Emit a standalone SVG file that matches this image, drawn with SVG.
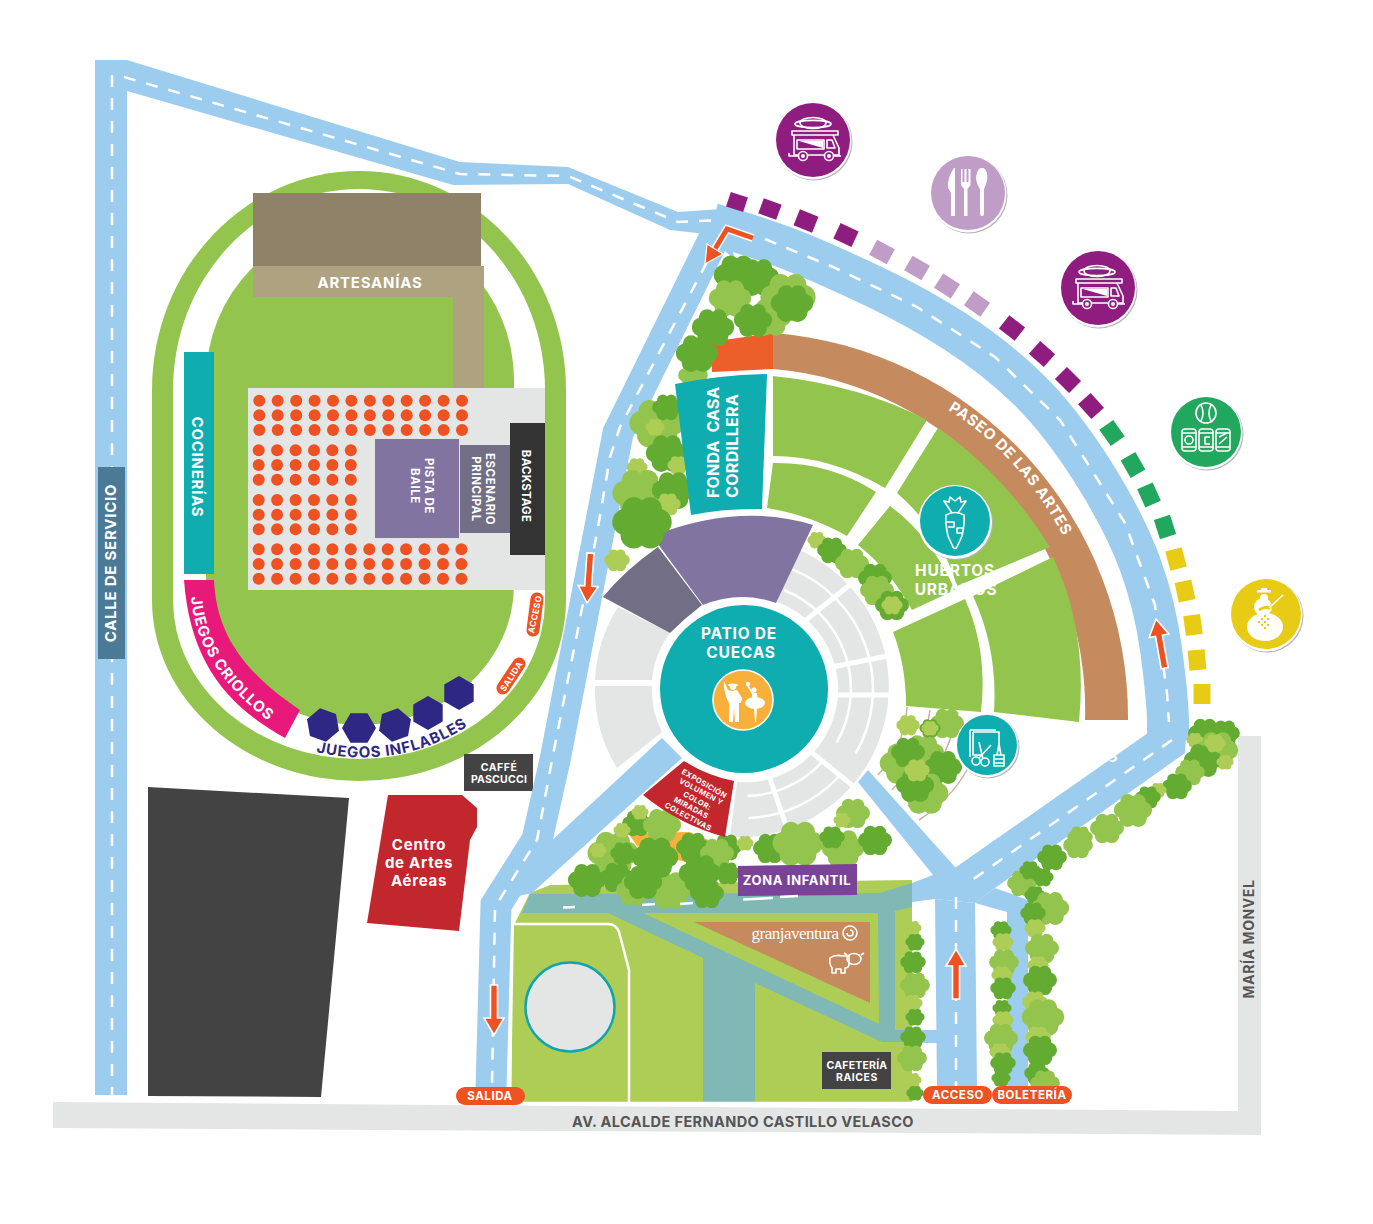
<svg xmlns="http://www.w3.org/2000/svg" xmlns:xlink="http://www.w3.org/1999/xlink" width="1373" height="1224" viewBox="0 0 1373 1224">
<style>
text{font-family:Inter,"Liberation Sans",sans-serif;font-weight:700;fill:#fff;text-anchor:middle;letter-spacing:.05em}
.road{fill:#9dcdee}.rl{fill:none;stroke:#9dcdee}
.dash{fill:none;stroke:#fff;stroke-width:2.5;stroke-dasharray:12 11}
.gr{fill:#e4e6e5}.g{fill:#93c44d}.teal{fill:#10adb0}.band{fill:#7fb8b5}
.d{fill:#64ab32}.m{fill:#93c44d}.l{fill:#adcd56}
.o{fill:#ee5122}.ln{fill:none;stroke:#fff;stroke-width:1.6;stroke-linejoin:round}
.w{fill:#fff}.wl{fill:none;stroke:#fff;stroke-width:2.5}
.p1{fill:#8f1d80}.p2{fill:#bf9dc7}.p3{fill:#22a75f}.p4{fill:#e8cb14}
.pill{font-size:11.5px}
</style>
<defs>
<g id="c" transform="scale(1.18)"><circle cx="-10" cy="0" r="8"/><circle cx="-5" cy="-8" r="7"/><circle cx="5" cy="-8" r="7"/><circle cx="10" cy="0" r="8"/><circle cx="5" cy="8" r="8"/><circle cx="-5" cy="8" r="8"/><circle r="10"/></g>
<g id="arrow"><polygon points="-3.5,50 -3.5,17 -10,17 0,0 10,17 3.5,17 3.5,50" fill="#ee5122" stroke="#fff" stroke-width="1.6"/></g>
<rect id="st" x="-10" y="-8.5" width="20" height="17"/>
<polygon id="hex" points="17,0 8.5,14.7 -8.5,14.7 -17,0 -8.5,-14.7 8.5,-14.7"/>
<g id="r12"><circle cx="0" r="6"/><circle cx="18.4" r="6"/><circle cx="36.9" r="6"/><circle cx="55.3" r="6"/><circle cx="73.7" r="6"/><circle cx="92.1" r="6"/><circle cx="110.6" r="6"/><circle cx="129" r="6"/><circle cx="147.4" r="6"/><circle cx="165.8" r="6"/><circle cx="184.3" r="6"/><circle cx="202.7" r="6"/></g>
<g id="r6"><circle cx="0" r="6"/><circle cx="18.4" r="6"/><circle cx="36.9" r="6"/><circle cx="55.3" r="6"/><circle cx="73.7" r="6"/><circle cx="92.1" r="6"/></g>
<g id="truck" class="ln"><ellipse cx="0" cy="-17" rx="13" ry="5.5"/><ellipse cx="0" cy="-16" rx="18" ry="3.6"/><rect x="-21" y="-9" width="46" height="4"/><path d="M-19,-5V15H-14M-5,15H11M21,15H26V8L20,-5"/><rect x="-16" y="0" width="27" height="9"/><path d="M-14,1H10V8Z" fill="#fff" stroke="none"/><path d="M14,0H19L22,8H14Z"/><circle cx="-10" cy="16" r="4.5"/><circle cx="16" cy="16" r="4.5"/><circle cx="-10" cy="16" r="1.2"/><circle cx="16" cy="16" r="1.2"/><path d="M-24,13V16H-15M21,16H28"/></g>
</defs>
<rect width="1373" height="1224" fill="#fff"/>

<g id="calles">
<polygon class="gr" points="53,1102 1238,1111 1238,736 1261,736 1261,1135 53,1128"/>
<text x="743" y="1127" font-size="14.5" style="fill:#555;letter-spacing:.4px">AV. ALCALDE FERNANDO CASTILLO VELASCO</text>
<text transform="translate(1254,939) rotate(-90)" font-size="14" style="fill:#555;letter-spacing:.6px">MARÍA MONVEL</text>
</g>

<g id="estadio">
<path class="g" d="M152,390A207,219 0 0 1 566,390V600A207,181 0 0 1 152,600Z"/>
<path class="w" d="M173,390A186,201 0 0 1 545,390V600A186,159 0 0 1 173,600Z"/>
<path class="g" d="M206,380A154,157 0 0 1 514,380V585A154,140 0 0 1 206,585Z"/>
<rect x="253" y="193" width="228" height="74" fill="#8f8269"/>
<polygon points="253,266 484,266 484,388 453,388 453,297 253,297" fill="#aea280"/>
<text x="370" y="288" font-size="15">ARTESANÍAS</text>
<rect x="248" y="388" width="297" height="202" class="gr"/>
<g class="o">
<use href="#r12" x="259.3" y="400.7"/><use href="#r12" x="259.3" y="415.3"/><use href="#r12" x="259.3" y="430"/>
<use href="#r6" x="258.7" y="450.3"/><use href="#r6" x="258.7" y="465"/><use href="#r6" x="258.7" y="479.7"/>
<use href="#r6" x="258.7" y="500"/><use href="#r6" x="258.7" y="514.7"/><use href="#r6" x="258.7" y="529.3"/>
<use href="#r12" x="258.7" y="549.3"/><use href="#r12" x="258.7" y="564"/><use href="#r12" x="258.7" y="578.7"/>
</g>
<rect x="375" y="439" width="84" height="99" fill="#8274a1"/>
<rect x="460" y="445" width="50" height="88" fill="#726e85"/>
<rect x="510" y="423" width="35" height="132" fill="#333"/>
<text transform="translate(425,486) rotate(90)" font-size="11.5">PISTA DE</text>
<text transform="translate(411,486) rotate(90)" font-size="11.5">BAILE</text>
<text transform="translate(486,489) rotate(90)" font-size="11.5">ESCENARIO</text>
<text transform="translate(472,489) rotate(90)" font-size="11.5">PRINCIPAL</text>
<text transform="translate(522,486) rotate(90)" font-size="11.5" style="letter-spacing:.02em">BACKSTAGE</text>
<rect x="184" y="352" width="30" height="222" class="teal"/>
<text transform="translate(192,467) rotate(90)" font-size="15">COCINERÍAS</text>
<path d="M184,580H214C216,630 240,670 300,710L285,738C225,705 190,660 184,580Z" fill="#e8197a"/>
<path id="pc" d="M191,597C196,650 225,690 281,730" fill="none"/>
<text font-size="15" style="text-anchor:start"><textPath href="#pc" xlink:href="#pc">JUEGOS CRIOLLOS</textPath></text>
<g fill="#2e2783">
<use href="#hex" transform="translate(323,725) rotate(20)"/><use href="#hex" transform="translate(359,728)"/><use href="#hex" transform="translate(395,725) rotate(-20)"/><use href="#hex" transform="translate(428,713) rotate(-30)"/><use href="#hex" transform="translate(459,693) rotate(30)"/>
</g>
<path id="pi" d="M316,752C370,765 430,755 476,720" fill="none"/>
<text font-size="15" style="text-anchor:start;fill:#2e2783"><textPath href="#pi" xlink:href="#pi">JUEGOS INFLABLES</textPath></text>
<path d="M537,599L533,630" stroke="#ee5122" stroke-width="13" stroke-linecap="round" fill="none"/>
<text transform="translate(538,615) rotate(-78)" font-size="8.5">ACCESO</text>
<path d="M519,664L503,688" stroke="#ee5122" stroke-width="13" stroke-linecap="round" fill="none"/>
<text transform="translate(514,678) rotate(-57)" font-size="8.5">SALIDA</text>
</g>

<g id="edificios">
<polygon points="148,787 349,798 321,1097 148,1096" fill="#434343"/>
<polygon points="388,795 462,795 477,808 477,827 470,840 459,931 367,923" fill="#c1272d"/>
<text x="419" y="850" font-size="15">Centro</text><text x="419" y="868" font-size="15">de Artes</text><text x="419" y="886" font-size="15">Aéreas</text>
<rect x="464" y="754" width="69" height="37" fill="#434343"/>
<text x="499" y="771" font-size="10.5">CAFFÉ</text><text x="499" y="783" font-size="10.5" style="letter-spacing:.02em">PASCUCCI</text>
</g>

<g id="granja">
<polygon points="550,885 912,880 912,1103 511,1103 514,925 530,893" fill="#adcd56"/>
<polygon class="band" points="530,894 880,893 912,883 912,1042 882,1042 755,983 755,1102 703,1102 703,958 608,913 522,913"/>
<polygon points="643,913 878,913 879,1024" fill="#adcd56"/>
<polygon points="895,911 912,907 912,1030 895,1030" fill="#adcd56"/>
<polygon points="694,922 870,922 870,1003" fill="#c58a5e"/>
<text x="795" y="939" font-size="17" style="font-family:'Liberation Serif',serif;font-weight:400;letter-spacing:-.5px">granjaventura</text>
<g class="ln"><circle cx="850" cy="933" r="7"/><path d="M850,930a3,3 0 1 1 -3,3"/></g>
<g class="ln" transform="translate(845,962)" stroke-width="1.2"><path d="M-15,-4Q-10,-8 -2,-6H4V2Q4,6 0,6V11H-4V7H-9V11H-13V6Q-16,2 -15,-4Z"/><ellipse cx="9" cy="-3" rx="7" ry="5.5"/><path d="M2,-7L-1,-9M16,-7L19,-9"/></g>
<path d="M513,924H608Q616,924 619,932L629,970V1102M511,923L510,1103H912" class="wl" stroke-width="3"/>
<circle cx="570" cy="1007" r="44.5" class="gr" stroke="#10a4ad" stroke-width="2.5"/>
<rect x="822" y="1052" width="69" height="37" fill="#434343"/>
<text x="857" y="1069" font-size="10.5" style="letter-spacing:.02em">CAFETERÍA</text><text x="857" y="1081" font-size="10.5">RAICES</text>
</g>

<g id="caminos">
<polygon class="road" points="95,60 127,60 460,162 568,167 678,212 722,209 735,260 706,234 670,230 568,184 453,185 127,91 127,1095 95,1095"/>
<path class="rl" stroke-width="31" d="M720,226L618,433L555,760L537,840L496,905L491,1090"/>
<polygon class="road" points="662,738 682,758 532,893 500,900 548,844"/>
<path class="rl" stroke-width="42" d="M712,224Q765,239 799,253Q833,267 875,287Q917,307 956,332Q995,357 1028,389Q1060,420 1093,472Q1125,523 1140,564Q1155,605 1161,649Q1167,693 1168,720V740"/>
<polygon class="road" points="1148,733 1187,720 1185,753 995,888 975,903 935,899 949,872"/>
<polygon class="road" points="868,770 955,867 975,880 935,899 912,902 912,883 933,875 858,782"/>
<polygon class="road" points="935,899 975,903 977,1087 937,1087"/>
<polygon class="road" points="975,903 995,888 1028,900 1028,1087 1007,1087 1007,912"/>
<rect class="road" x="912" y="1030" width="25" height="13"/>
<path class="dash" d="M124,77L460,174L568,176L678,222L722,220"/>
<path class="dash" d="M112,75V1095"/>
<path class="dash" d="M707,262L620,427L610,457L597,533L553,755L537,840L495,907L492,1085"/>
<path class="dash" d="M765,239Q799,253 833,267Q875,287 917,307Q956,332 995,357Q1028,389 1060,420Q1093,472 1125,523Q1140,564 1155,605Q1161,649 1167,693L1169,722"/>
<path class="dash" d="M1172,740L965,885"/>
<path class="dash" d="M956,897V1087"/>
<text transform="translate(1115,761) rotate(-33)" font-size="14">S</text>
<g fill="none" stroke="#fff" stroke-width="8"><path d="M753,238L727,229L715,249"/></g>
<path d="M753,238L727,229L715,249" fill="none" stroke="#ee5122" stroke-width="5"/>
<polygon points="705,264 707,244 723,254" fill="#ee5122" stroke="#fff" stroke-width="1.2"/>
<use href="#arrow" transform="translate(587,603) rotate(184)"/>
<use href="#arrow" transform="translate(1156,619) rotate(-10)"/>
<use href="#arrow" transform="translate(494,1035) rotate(180)"/>
<use href="#arrow" transform="translate(956,949)"/>
</g>

<g id="puestos">
<g class="p1"><use href="#st" transform="translate(737,202) rotate(18) scale(.9)"/><use href="#st" transform="translate(770,209) rotate(20) scale(.95)"/><use href="#st" transform="translate(806,221) rotate(22)"/><use href="#st" transform="translate(846,235) rotate(25)"/>
<use href="#st" transform="translate(1012,328) rotate(38)"/><use href="#st" transform="translate(1042,354) rotate(42)"/><use href="#st" transform="translate(1068,380) rotate(45)"/><use href="#st" transform="translate(1091,406) rotate(48)"/></g>
<g class="p2"><use href="#st" transform="translate(882,252) rotate(28)"/><use href="#st" transform="translate(917,268) rotate(30)"/><use href="#st" transform="translate(947,286) rotate(33)"/><use href="#st" transform="translate(977,304) rotate(35)"/></g>
<g class="p3"><use href="#st" transform="translate(1112,433) rotate(55)"/><use href="#st" transform="translate(1133,465) rotate(60)"/><use href="#st" transform="translate(1149,495) rotate(66)"/><use href="#st" transform="translate(1165,527) rotate(72)"/></g>
<g class="p4"><use href="#st" transform="translate(1176,559) rotate(75)"/><use href="#st" transform="translate(1185,591) rotate(78)"/><use href="#st" transform="translate(1193,625) rotate(82)"/><use href="#st" transform="translate(1197,660) rotate(85)"/><use href="#st" transform="translate(1202,694) rotate(90)"/></g>
</g>

<g id="paseo">
<path d="M773,333A385,385 0 0 1 1128,720H1085A342,342 0 0 0 773,369Z" fill="#c58a5e"/>
<polygon points="710,342 773,333 773,369 712,372" fill="#ec5f2b"/>
<path id="pa" d="M948,410Q1022,455 1068,545" fill="none"/>
<text font-size="15" style="text-anchor:start"><textPath href="#pa" xlink:href="#pa">PASEO DE LAS ARTES</textPath></text>
</g>

<g id="huertos" class="g">
<path d="M773,376Q860,385 927,420L885,488Q830,456 773,456Z"/>
<path d="M773,463Q830,462 876,492L847,536Q810,515 767,508Z"/>
<path d="M938,428Q1005,475 1050,547L957,586Q940,530 897,493Z"/>
<path d="M890,506Q930,535 955,590L912,610Q890,570 858,545Z"/>
<path d="M893,632L965,599Q988,650 981,712L906,706Q906,665 893,632Z"/>
<path d="M1053,557L973,596Q998,650 994,712L1079,722Q1088,630 1053,557Z"/>
</g>
<text x="955" y="576" font-size="15.5">HUERTOS</text><text x="956" y="595" font-size="15.5">URBANOS</text>
<path d="M907,707Q905,745 878,775M930,710Q925,755 892,790M958,712Q945,770 908,806M967,770Q950,800 919,820" fill="none" stroke="#c9b29c" stroke-width="1.5"/>

<g id="anillo">
<path class="gr" d="M670,633A93,93 0 0 0 652,680L595,680A150,150 0 0 1 618,607Z"/>
<path class="gr" d="M652,686A93,93 0 0 0 662,732L617,768A150,150 0 0 1 595,686Z"/>
<path class="gr" d="M777,602A93,93 0 0 1 737,782L730,837A150,150 0 0 0 792,547Z"/>
<path class="wl" d="M784,590A107,107 0 0 1 836.7,742.5M792.3,569.4A129,129 0 0 1 855.7,753.5M822.3,762A107,107 0 0 1 747.7,796M838.3,777A129,129 0 0 1 748.5,818"/>
<path d="M806,620L852,583M832,667L892,655M835,695H897M810,751L858,790M769,776L789,834" fill="none" stroke="#fff" stroke-width="5"/>
<path d="M652,536Q740,502 813,525L776,603Q740,590 703,605Z" fill="#8274a1"/>
<path d="M658,547Q625,570 603,597L670,633Q685,618 702,605Z" fill="#726e85"/>
<circle cx="744" cy="689" r="84" class="teal"/>
<text x="739" y="639" font-size="15.5">PATIO DE</text><text x="741" y="658" font-size="15.5">CUECAS</text>
<circle cx="743" cy="700" r="30" fill="#f9b03a" stroke="#fff" stroke-width="1.6"/>
<g class="w" transform="translate(743,700)">
<path d="M-19,-19L-15,-10L-11,-9L-6,-10L-1,-2L-2,3L-4,3L-4,22L-8,22L-9,8L-10,22L-14,22L-14,3Q-20,-8 -19,-19Z"/>
<ellipse cx="-10" cy="-15" rx="5" ry="1.5"/><circle cx="-10" cy="-13" r="3"/>
<ellipse cx="12" cy="3" rx="10" ry="6"/><path d="M9,-7H14L15,2H9ZM11,8H14L13,22H12Z"/><circle cx="11" cy="-10" r="2.6"/><circle cx="5" cy="-16" r="2.2"/>
<path d="M10,-6L5,-14" stroke="#fff" stroke-width="1.5"/>
</g>
<polygon points="628,833 690,832 727,848 727,873 640,850" fill="#f9b03a"/>
</g>

<g id="arboles">
<use href="#c" class="d" transform="translate(737,275) scale(1.1)"/><use href="#c" class="d" transform="translate(758,277)"/><use href="#c" class="m" transform="translate(730,298)"/><use href="#c" class="m" transform="translate(788,297) scale(1.3)"/><use href="#c" class="m" transform="translate(770,317)"/><use href="#c" class="d" transform="translate(792,303)"/><use href="#c" class="d" transform="translate(753,320) scale(.9)"/><use href="#c" class="d" transform="translate(713,327)"/><use href="#c" class="m" transform="translate(693,375) scale(.7)"/><use href="#c" class="d" transform="translate(697,353)"/>
<use href="#c" class="m" transform="translate(657,423) scale(1.3)"/><use href="#c" class="d" transform="translate(667,407) scale(.7)"/><use href="#c" class="l" transform="translate(655,427) scale(.45)"/><use href="#c" class="d" transform="translate(667,453)"/><use href="#c" class="l" transform="translate(637,467) scale(.5)"/><use href="#c" class="l" transform="translate(678,465) scale(.5)"/><use href="#c" class="m" transform="translate(640,493) scale(1.3)"/><use href="#c" class="d" transform="translate(673,490)"/><use href="#c" class="l" transform="translate(668,504) scale(.6)"/><use href="#c" class="d" transform="translate(642,522) scale(1.4)"/><use href="#c" class="l" transform="translate(617,560) scale(.6)"/>
<use href="#c" class="l" transform="translate(817,540) scale(.45)"/><use href="#c" class="d" transform="translate(832,550) scale(.7)"/><use href="#c" class="m" transform="translate(852,563) scale(.8)"/><use href="#c" class="d" transform="translate(875,578) scale(.8)"/><use href="#c" class="m" transform="translate(877,590) scale(.8)"/><use href="#c" class="d" transform="translate(892,605) scale(.8)"/><use href="#c" class="l" transform="translate(892,605) scale(.5)"/>
<use href="#c" class="l" transform="translate(908,725) scale(.55)"/><use href="#c" class="m" transform="translate(947,723) scale(.8)"/><use href="#c" class="m" transform="translate(923,753)"/><use href="#c" class="d" transform="translate(930,728) scale(.5)"/><use href="#c" class="l" transform="translate(930,728) scale(.4)"/><use href="#c" class="m" transform="translate(903,763) scale(1.1)"/><use href="#c" class="d" transform="translate(908,752) scale(.8)"/><use href="#c" class="d" transform="translate(943,767) scale(.9)"/><use href="#c" class="m" transform="translate(925,793) scale(1.1)"/><use href="#c" class="d" transform="translate(915,785) scale(.9)"/><use href="#c" class="l" transform="translate(917,770) scale(.6)"/>
<use href="#c" class="d" transform="translate(1205,733) scale(.8)"/><use href="#c" class="d" transform="translate(1225,733) scale(.7)"/><use href="#c" class="l" transform="translate(1195,740) scale(.4)"/><use href="#c" class="m" transform="translate(1217,750)"/><use href="#c" class="d" transform="translate(1203,760) scale(.9)"/><use href="#c" class="l" transform="translate(1215,743) scale(.5)"/><use href="#c" class="l" transform="translate(1225,762) scale(.4)"/><use href="#c" class="m" transform="translate(1190,772) scale(.7)"/><use href="#c" class="d" transform="translate(1177,786) scale(.7)"/><use href="#c" class="l" transform="translate(1158,790) scale(.4)"/><use href="#c" class="d" transform="translate(1148,797) scale(.6)"/><use href="#c" class="m" transform="translate(1133,810) scale(.9)"/><use href="#c" class="m" transform="translate(1107,828) scale(.8)"/><use href="#c" class="m" transform="translate(1080,837) scale(.6)"/>
<use href="#c" class="m" transform="translate(1078,845) scale(.7)"/><use href="#c" class="d" transform="translate(1052,857) scale(.7)"/><use href="#c" class="m" transform="translate(1022,883) scale(.7)"/><use href="#c" class="d" transform="translate(1030,870) scale(.5)"/><use href="#c" class="d" transform="translate(1043,877) scale(.5)"/><use href="#c" class="d" transform="translate(1035,895) scale(.5)"/><use href="#c" class="m" transform="translate(1050,908) scale(.9)"/><use href="#c" class="d" transform="translate(1033,913) scale(.6)"/><use href="#c" class="l" transform="translate(1035,928) scale(.5)"/><use href="#c" class="m" transform="translate(1042,948) scale(.8)"/><use href="#c" class="l" transform="translate(1038,965) scale(.5)"/><use href="#c" class="d" transform="translate(1040,980) scale(.8)"/><use href="#c" class="l" transform="translate(1035,1002) scale(.6)"/><use href="#c" class="m" transform="translate(1043,1017)"/><use href="#c" class="l" transform="translate(1038,1037) scale(.6)"/><use href="#c" class="d" transform="translate(1040,1050) scale(.8)"/><use href="#c" class="d" transform="translate(1037,1073) scale(.6)"/><use href="#c" class="m" transform="translate(1045,1083) scale(.7)"/>
<use href="#c" class="d" transform="translate(1001,930) scale(.5)"/><use href="#c" class="l" transform="translate(1003,942) scale(.5)"/><use href="#c" class="m" transform="translate(1004,962) scale(.7)"/><use href="#c" class="l" transform="translate(1002,975) scale(.5)"/><use href="#c" class="d" transform="translate(1003,988) scale(.6)"/><use href="#c" class="d" transform="translate(1002,1008) scale(.45)"/><use href="#c" class="l" transform="translate(1003,1020) scale(.5)"/><use href="#c" class="m" transform="translate(1001,1038) scale(.8)"/><use href="#c" class="l" transform="translate(1000,1052) scale(.5)"/><use href="#c" class="d" transform="translate(1003,1063) scale(.6)"/><use href="#c" class="d" transform="translate(1001,1078) scale(.45)"/>
<use href="#c" class="l" transform="translate(913,928) scale(.4)"/><use href="#c" class="d" transform="translate(915,942) scale(.45)"/><use href="#c" class="d" transform="translate(913,962) scale(.6)"/><use href="#c" class="m" transform="translate(915,985) scale(.7)"/><use href="#c" class="l" transform="translate(913,1003) scale(.45)"/><use href="#c" class="d" transform="translate(915,1017) scale(.45)"/><use href="#c" class="d" transform="translate(913,1037) scale(.6)"/><use href="#c" class="m" transform="translate(912,1058) scale(.7)"/><use href="#c" class="l" transform="translate(913,1080) scale(.4)"/><use href="#c" class="d" transform="translate(915,1093) scale(.4)"/>
<use href="#c" class="d" transform="translate(637,823) scale(.7)"/><use href="#c" class="l" transform="translate(640,812) scale(.4)"/><use href="#c" class="m" transform="translate(662,825) scale(.9)"/><use href="#c" class="m" transform="translate(613,853) scale(1.2)"/><use href="#c" class="l" transform="translate(622,830) scale(.4)"/><use href="#c" class="l" transform="translate(598,850) scale(.4)"/><use href="#c" class="d" transform="translate(587,880) scale(.9)"/><use href="#c" class="d" transform="translate(623,853) scale(.6)"/><use href="#c" class="d" transform="translate(617,877) scale(.8)"/><use href="#c" class="m" transform="translate(633,890) scale(.8)"/><use href="#c" class="m" transform="translate(670,890)"/><use href="#c" class="d" transform="translate(655,857) scale(1.1)"/><use href="#c" class="d" transform="translate(643,882) scale(.9)"/><use href="#c" class="d" transform="translate(693,847) scale(.8)"/><use href="#c" class="d" transform="translate(727,847) scale(.7)"/><use href="#c" class="m" transform="translate(717,853) scale(.8)"/><use href="#c" class="d" transform="translate(700,873)"/><use href="#c" class="d" transform="translate(707,893) scale(.8)"/><use href="#c" class="d" transform="translate(728,873) scale(.6)"/>
<use href="#c" class="l" transform="translate(745,843) scale(.4)"/><use href="#c" class="d" transform="translate(770,848) scale(.8)"/><use href="#c" class="m" transform="translate(798,843) scale(1.2)"/><use href="#c" class="m" transform="translate(843,848)"/><use href="#c" class="d" transform="translate(832,837) scale(.6)"/><use href="#c" class="m" transform="translate(853,813) scale(.8)"/><use href="#c" class="l" transform="translate(842,820) scale(.4)"/><use href="#c" class="d" transform="translate(875,840) scale(.8)"/>
</g>

<g id="fonda">
<path d="M675,384Q720,375 767,374L762,509Q725,508 691,515Z" class="teal"/>
<text transform="translate(719,498) rotate(-90)" font-size="16" style="text-anchor:start;letter-spacing:.01em" xml:space="preserve">FONDA  CASA</text>
<text transform="translate(738,498) rotate(-90)" font-size="16" style="text-anchor:start;letter-spacing:.02em">CORDILLERA</text>
</g>

<g id="exposicion">
<path d="M684,761Q708,776 734,781L725,837Q680,825 643,795Z" fill="#c1272d"/>
<text transform="translate(703,786) rotate(30)" font-size="7.5">EXPOSICIÓN</text>
<text transform="translate(700,794) rotate(28)" font-size="7.5">VOLUMEN Y</text>
<text transform="translate(696,803) rotate(28)" font-size="7.5">COLOR:</text>
<text transform="translate(690,810) rotate(28)" font-size="7.5">MIRADAS</text>
<text transform="translate(687,819) rotate(28)" font-size="7.5">COLECTIVAS</text>
</g>

<g id="zona-infantil">
<polygon points="738,866 857,864 857,895 738,896" fill="#7b4397"/>
<text x="797" y="885" font-size="13">ZONA INFANTIL</text>
<path d="M563,907.5L575,907M642,905L655,904M680,904L693,903M743,899.5L773,898M780,897L798,896" fill="none" stroke="#fff" stroke-width="2.5"/>
</g>

<g id="iconos">
<g id="i-truck1"><circle cx="814" cy="142" r="38.5" fill="#b5b5b5"/><circle cx="813" cy="141" r="38.5" class="w"/><circle cx="813" cy="140" r="37" class="p1"/><use href="#truck" transform="translate(813,140)"/></g>
<g id="i-cubiertos"><circle cx="969" cy="195" r="38.5" fill="#b5b5b5"/><circle cx="968" cy="194" r="38.5" class="w"/><circle cx="968" cy="193" r="37" class="p2"/>
<g class="w" transform="translate(968,193)"><path d="M-14,-25Q-21,-15 -20,-5L-17,0V23H-13V-25Z"/><path d="M-7,-24H-5.5V-11H-3.5V-24H-1.5V-11H.5V-24H2.5V-8L-.5,-4V23H-4V-4L-7,-8Z"/><path d="M14,-25C19,-25 20,-17 19,-12C18,-8 16,-5 16,-3V21Q16,23 14,23Q12,23 12,21V-3C12,-5 9,-8 8.5,-12C7.5,-17 9,-25 14,-25Z"/></g></g>
<g id="i-truck2"><circle cx="1099" cy="290" r="38.5" fill="#b5b5b5"/><circle cx="1098" cy="289" r="38.5" class="w"/><circle cx="1098" cy="288" r="37" class="p1"/><use href="#truck" transform="translate(1097,288)"/></g>
<g id="i-bebidas"><circle cx="1207" cy="434" r="36.5" fill="#b5b5b5"/><circle cx="1206" cy="433" r="36.5" class="w"/><circle cx="1206" cy="432" r="35" class="p3"/>
<g class="ln" transform="translate(1206,432)" stroke-width="2"><circle cy="-19" r="10"/><path d="M-5,-27Q-1,-19 -5,-11M5,-27Q1,-19 5,-11"/><rect x="-24" y="-3" width="14" height="22" rx="3"/><rect x="-7" y="-3" width="14" height="22" rx="3"/><rect x="10" y="-3" width="14" height="22" rx="3"/><path d="M-24,1H-10M-24,15H-10M-7,1H7M-7,15H7M10,1H24M10,15H24"/><circle cx="-17" cy="8" r="4"/><path d="M4,5H-1V12H4M13,12L21,5M13,5L21,1"/></g></g>
<g id="i-musica"><circle cx="1267" cy="616" r="36.5" fill="#b5b5b5"/><circle cx="1266" cy="615" r="36.5" class="w"/><circle cx="1266" cy="614" r="35" class="p4"/>
<g transform="translate(1266,614)"><ellipse class="w" cx="-1" cy="13" rx="18" ry="14"/><ellipse class="w" cx="-3" cy="-7" rx="9" ry="9"/><circle class="w" cx="-2" cy="-16" r="4"/><rect class="w" x="-9" y="-24" width="14" height="2.5"/><rect class="w" x="-5" y="-26" width="6" height="4"/><path d="M-7,-4Q0,-8 3,-6L17,-19" fill="none" stroke="#e8cb14" stroke-width="3"/><path d="M3,-6L17,-19" fill="none" stroke="#fff" stroke-width="1.5"/><path d="M-8,8h2M-5,5h2M-5,11h2M-2,8h2M-2,14h2M1,5h2M1,11h2M-2,2h2" stroke="#e8cb14" stroke-width="2" fill="none"/></g></g>
<g id="i-huertos"><circle cx="956" cy="523" r="37" fill="#b5b5b5"/><circle cx="955" cy="522" r="37" class="w"/><circle cx="955" cy="521" r="35" class="teal"/>
<g class="ln" transform="translate(955,522)"><path d="M-9,-7Q-10,0 -7,14L-2,25Q0,28 2,25L7,14Q10,0 9,-7Q0,-12 -9,-7Z"/><path d="M-3,-9L-11,-21L-6,-20L-5,-25L0,-21L5,-25L6,-20L11,-21L3,-9M-9,0H-1V5H-7M8,6H2V11H7"/></g></g>
<g id="i-talleres"><circle cx="988" cy="747" r="31.5" fill="#b5b5b5"/><circle cx="987" cy="746" r="31.5" class="w"/><circle cx="987" cy="745" r="30" class="teal"/>
<g class="ln" transform="translate(987,745)"><path d="M-17,-15H9M-17,-15V12M-14,-13H12V6M-14,-13V10H-5"/><circle cx="-11" cy="16" r="4"/><circle cx="-2" cy="17" r="4"/><path d="M-8,13L4,0M-4,14L-8,-3"/><path d="M7,21V10H17V21ZM10,10L12,-1L14,10M7,14H17M7,18H17"/></g></g>
</g>

<g id="accesos">
<rect x="456" y="1087" width="69" height="18" rx="9" class="o"/><text x="490" y="1100" class="pill">SALIDA</text>
<rect x="923" y="1086" width="69" height="18" rx="9" class="o"/><text x="958" y="1099" class="pill">ACCESO</text>
<rect x="992" y="1086" width="80" height="18" rx="9" class="o"/><text x="1032" y="1099" class="pill">BOLETERÍA</text>
</g>

<g id="calle-servicio">
<rect x="98" y="467" width="27" height="192" fill="#4a7a96"/>
<text transform="translate(116,563) rotate(-90)" font-size="15">CALLE DE SERVICIO</text>
</g>
</svg>
